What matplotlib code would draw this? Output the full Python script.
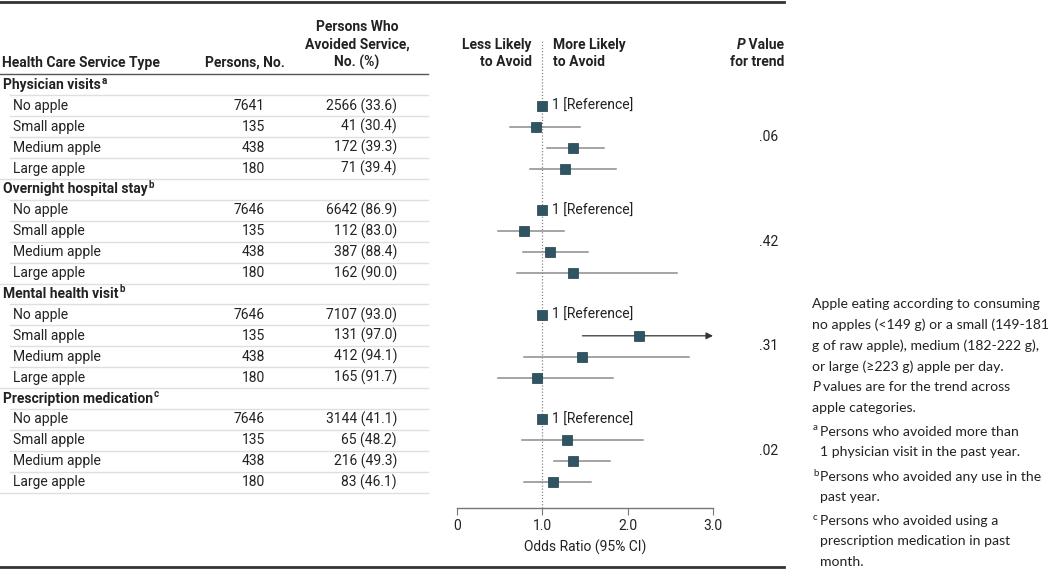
import matplotlib
matplotlib.use("Agg")
import matplotlib.pyplot as plt
from matplotlib.lines import Line2D

# ---- data ----
groups = ["Physician visits", "Overnight hospital stay", "Mental health visit", "Prescription medication"]
group_marks = ["a", "b", "b", "c"]
sizes = ["No apple", "Small apple", "Medium apple", "Large apple"]
persons = [[7641, 135, 438, 180],
           [7646, 135, 438, 180],
           [7646, 135, 438, 180],
           [7646, 135, 438, 180]]
avoided = [["2566 (33.6)", "41 (30.4)", "172 (39.3)", "71 (39.4)"],
           ["6642 (86.9)", "112 (83.0)", "387 (88.4)", "162 (90.0)"],
           ["7107 (93.0)", "131 (97.0)", "412 (94.1)", "165 (91.7)"],
           ["3144 (41.1)", "65 (48.2)", "216 (49.3)", "83 (46.1)"]]
odds = [[1.0, 0.92, 1.36, 1.27],
        [1.0, 0.78, 1.09, 1.36],
        [1.0, 2.13, 1.47, 0.94],
        [1.0, 1.29, 1.36, 1.12]]
ci_low = [[None, 0.62, 1.05, 0.85],
          [None, 0.48, 0.77, 0.70],
          [None, 1.47, 0.78, 0.48],
          [None, 0.76, 1.14, 0.79]]
ci_high = [[None, 1.44, 1.72, 1.86],
           [None, 1.25, 1.53, 2.58],
           [None, 3.00, 2.72, 1.83],
           [None, 2.18, 1.79, 1.57]]
ci_arrow = [[False] * 4, [False] * 4, [False, True, False, False], [False] * 4]
p_trend = [".06", ".42", ".31", ".02"]
x_ticks = [0, 1, 2, 3]
x_ticklabels = ["0", "1.0", "2.0", "3.0"]

W, H = 1050, 570
FONT = ["Roboto", "DejaVu Sans"]
NOTE_FONT = ["Lato", "DejaVu Sans"]
TXT = "#222222"
SQ = "#2f5564"
HW = "semibold"

fig = plt.figure(figsize=(W / 100, H / 100), dpi=100)
ax = fig.add_axes([0, 0, 1, 1])
ax.set_xlim(0, W)
ax.set_ylim(H, 0)
ax.axis("off")
renderer = fig.canvas.get_renderer()


def text_width(t):
    return t.get_window_extent(renderer=renderer).width


def fit_size(s, target, family, weight="normal"):
    # font size that gives the text the width measured on the reference
    probe = ax.text(0, 0, s, fontfamily=family, fontsize=10, fontweight=weight)
    w = text_width(probe)
    probe.remove()
    return 10 * target / w


FS = fit_size("Medium apple", 88, FONT)
BFS = FS
NFS = fit_size("no apples (<149 g) or a small (149-181", 236, NOTE_FONT)

# forest axes: pixel x 457 -> OR 0, 713 -> OR 3; pixel y 40..508
fx = fig.add_axes([457 / W, (H - 508) / H, 256 / W, (508 - 40) / H])
fx.set_xlim(0, 3)
fx.set_ylim(508, 40)
fx.patch.set_alpha(0)
for s in ["top", "right", "left"]:
    fx.spines[s].set_visible(False)
fx.spines["bottom"].set_color("#777777")
fx.spines["bottom"].set_linewidth(1)
fx.set_yticks([])
fx.set_xticks(x_ticks)
fx.set_xticklabels(x_ticklabels, fontfamily=FONT, fontsize=FS, color=TXT)
fx.tick_params(axis="x", length=5, color="#777777", pad=3)
fx.set_xlabel("Odds Ratio (95% CI)", fontfamily=FONT, fontsize=FS, color=TXT, labelpad=5)
fx.axvline(1.0, color="#888888", lw=0.9, ls=(0, (1, 1.5)), zorder=1)

# rules
ax.add_line(Line2D([0, 784], [2, 2], color="#333333", lw=2))
ax.add_line(Line2D([0, 784], [567, 567], color="#333333", lw=2))
ax.add_line(Line2D([0, 428], [74, 74], color="#555555", lw=1))

# column headers
bold = dict(fontfamily=FONT, fontsize=BFS, fontweight=HW, color=TXT)
ax.text(2, 63, "Health Care Service Type", ha="left", va="center", **bold)
ax.text(285, 63, "Persons, No.", ha="right", va="center", **bold)
ax.text(357, 27, "Persons Who", ha="center", va="center", **bold)
ax.text(357, 45, "Avoided Service,", ha="center", va="center", **bold)
ax.text(357, 62, "No. (%)", ha="center", va="center", **bold)
ax.text(532, 45, "Less Likely", ha="right", va="center", **bold)
ax.text(532, 62, "to Avoid", ha="right", va="center", **bold)
ax.text(553, 45, "More Likely", ha="left", va="center", **bold)
ax.text(553, 62, "to Avoid", ha="left", va="center", **bold)
ax.text(784, 62, "for trend", ha="right", va="center", **bold)
tv = ax.text(784, 45, " Value", ha="right", va="center", **bold)
ax.text(784 - text_width(tv), 45, "P", ha="right", va="center", style="italic", **bold)

# rows
y0, step = 85.0, 20.9
reg = dict(fontfamily=FONT, fontsize=FS, color=TXT)
for g in range(len(groups)):
    yh = y0 + g * 5 * step
    t = ax.text(3, yh, groups[g], ha="left", va="center", **bold)
    ax.text(3 + text_width(t) + 0.5, yh - 4.5, group_marks[g], ha="left", va="center",
            fontfamily=FONT, fontsize=BFS * 0.7, fontweight=HW, color=TXT)
    ax.add_line(Line2D([10, 428], [yh + step / 2] * 2, color="#e2dfda", lw=1))
    for i in range(4):
        y = yh + (i + 1) * step
        ax.text(13, y, sizes[i], ha="left", va="center", **reg)
        ax.text(265, y, str(persons[g][i]), ha="right", va="center", **reg)
        ax.text(397, y, avoided[g][i], ha="right", va="center", **reg)
        x_start = 0 if i == 3 else 10
        ax.add_line(Line2D([x_start, 428], [y + step / 2] * 2, color="#e2dfda", lw=1))
        # forest marks
        if ci_low[g][i] is None:
            fx.plot([odds[g][i]], [y], marker="s", ms=7.5, color=SQ, mec="#1f3d49", mew=0.5, zorder=3)
            fx.text(odds[g][i] + 0.11, y, "1 [Reference]", ha="left", va="center", **reg)
        else:
            if ci_arrow[g][i]:
                fx.annotate("", xy=(ci_high[g][i], y), xytext=(ci_low[g][i], y),
                            arrowprops=dict(arrowstyle="-|>", color="#333333", lw=0.9,
                                            mutation_scale=10, shrinkA=0, shrinkB=0),
                            annotation_clip=False)
            else:
                fx.plot([ci_low[g][i], ci_high[g][i]], [y, y], color="#8c8c8c", lw=1.1, zorder=2)
            fx.plot([odds[g][i]], [y], marker="s", ms=7.5, color=SQ, mec="#1f3d49", mew=0.5, zorder=3)
    ax.text(778, yh + 2.5 * step, p_trend[g], ha="right", va="center", **reg)

# notes on the right
note = dict(fontfamily=NOTE_FONT, fontsize=NFS, color=TXT, va="center")
nx, ny, nstep = 812, 304, 20.8
lines = ["Apple eating according to consuming",
         "no apples (<149 g) or a small (149-181",
         "g of raw apple), medium (182-222 g),",
         "or large (\u2265223 g) apple per day."]
for k, s in enumerate(lines):
    ax.text(nx, ny + k * nstep, s, ha="left", **note)
tp = ax.text(nx, ny + 4 * nstep, "P", ha="left", style="italic", **note)
ax.text(nx + text_width(tp) + 3, ny + 4 * nstep, "values are for the trend across", ha="left", **note)
ax.text(nx, ny + 5 * nstep, "apple categories.", ha="left", **note)

foot = [("a", ["Persons who avoided more than", "1 physician visit in the past year."], 432),
        ("b", ["Persons who avoided any use in the", "past year."], 477),
        ("c", ["Persons who avoided using a", "prescription medication in past", "month."], 521)]
for mark, flines, fy in foot:
    ax.text(nx + 1, fy - 4, mark, ha="left", fontfamily=NOTE_FONT, fontsize=NFS * 0.7, color=TXT, va="center")
    for k, s in enumerate(flines):
        ax.text(nx + 8, fy + k * 20.3, s, ha="left", **note)

fig.savefig("out.png", dpi=100)
